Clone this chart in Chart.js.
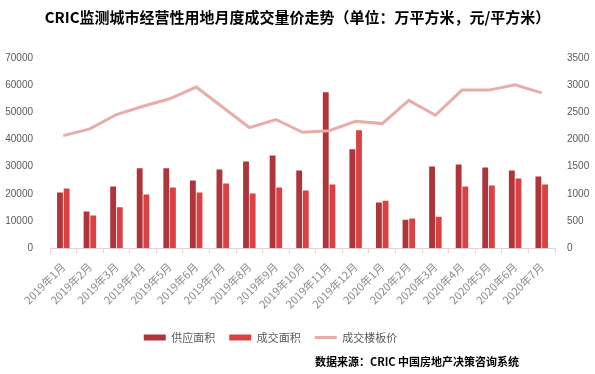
<!DOCTYPE html>
<html>
<head>
<meta charset="utf-8">
<script src="https://cdn.jsdelivr.net/npm/chart.js@4/dist/chart.umd.min.js"></script>
<style>
    body { margin: 0; background: #fff; }
    #wrap { position: relative; width: 595px; height: 374px; }
    #source {
        position: absolute; right: 76px; top: 353px;
        font: bold 11px "Noto Sans CJK SC", sans-serif; color: #000;
    }
</style>
</head>
<body>
<div id="wrap">
    <canvas id="myChart" width="595" height="374"></canvas>
    <div id="source">数据来源：CRIC 中国房地产决策咨询系统</div>
</div>
<script>
    var months = ["2019年1月", "2019年2月", "2019年3月", "2019年4月", "2019年5月", "2019年6月",
        "2019年7月", "2019年8月", "2019年9月", "2019年10月", "2019年11月", "2019年12月",
        "2020年1月", "2020年2月", "2020年3月", "2020年4月", "2020年5月", "2020年6月", "2020年7月"];
    var supplyArea = [20500, 13500, 22700, 29400, 29400, 24900, 29000, 31900, 34100, 28600,
        57400, 36400, 16800, 10500, 30100, 30800, 29700, 28600, 26400];
    var dealArea = [22000, 12000, 15100, 19800, 22300, 20500, 23800, 20100, 22300, 21200,
        23400, 43400, 17500, 10900, 11600, 22700, 23100, 25700, 23400];
    var dealPrice = [2072, 2195, 2460, 2613, 2750, 2965, 2595, 2220, 2368, 2133,
        2163, 2336, 2293, 2719, 2447, 2909, 2909, 3007, 2859];

    var tickFont = { family: "'Liberation Sans', Arial, sans-serif", size: 10 };
    var plain = function (v) { return String(v); };

    // legend in the original sits a bit left of centre
    var legendShift = {
        id: 'legendShift',
        afterLayout: function (chart) {
            chart.legend.left -= 27;
            chart.legend.right -= 27;
        }
    };

    var ctx = document.getElementById('myChart').getContext('2d');
    var chart = new Chart(ctx, {
        type: 'bar',
        data: {
            labels: months,
            datasets: [{
                label: '供应面积',
                data: supplyArea,
                backgroundColor: '#B0353A',
                pointStyle: 'rect',
                yAxisID: 'y',
                order: 2,
                categoryPercentage: 0.5,
                barPercentage: 0.88
            }, {
                label: '成交面积',
                data: dealArea,
                backgroundColor: '#DB4142',
                pointStyle: 'rect',
                yAxisID: 'y',
                order: 2,
                categoryPercentage: 0.5,
                barPercentage: 0.88
            }, {
                type: 'line',
                label: '成交楼板价',
                data: dealPrice,
                borderColor: '#E8ADA8',
                backgroundColor: '#E8ADA8',
                borderWidth: 3,
                pointRadius: 0,
                pointStyle: 'line',
                tension: 0,
                yAxisID: 'y1',
                order: 1
            }]
        },
        options: {
            responsive: false,
            animation: false,
            layout: { padding: { left: 0, right: 0, top: 0, bottom: 21 } },
            plugins: {
                title: {
                    display: true,
                    text: 'CRIC监测城市经营性用地月度成交量价走势（单位：万平方米，元/平方米）',
                    font: { family: "'Noto Sans CJK SC', sans-serif", size: 15, weight: 'bold' },
                    color: '#000',
                    padding: { top: 8, bottom: 32 }
                },
                legend: {
                    position: 'bottom',
                    labels: {
                        usePointStyle: true,
                        pointStyleWidth: 22,
                        boxHeight: 6,
                        padding: 14,
                        color: '#595959',
                        font: { family: "'Noto Sans CJK SC', sans-serif", size: 11 },
                        sort: function (a, b) { return a.datasetIndex - b.datasetIndex; }
                    }
                },
                tooltip: { enabled: false }
            },
            scales: {
                x: {
                    offset: true,
                    grid: { display: true, drawOnChartArea: false, offset: true, tickLength: 5, color: '#E3D3D3' },
                    border: { color: '#E3D3D3' },
                    ticks: {
                        color: '#8c8c8c',
                        padding: 7,
                        maxRotation: 45,
                        minRotation: 45,
                        font: { family: "'Noto Sans CJK SC', sans-serif", size: 11 }
                    }
                },
                y: {
                    position: 'left',
                    min: 0,
                    max: 70000,
                    grid: { display: false, drawTicks: false },
                    border: { display: false },
                    afterFit: function (axis) { axis.width = 50; },
                    ticks: { stepSize: 10000, color: '#595959', font: tickFont, padding: 17, callback: plain }
                },
                y1: {
                    position: 'right',
                    min: 0,
                    max: 3500,
                    grid: { display: false, drawTicks: false },
                    border: { display: false },
                    afterFit: function (axis) { axis.width = 40; },
                    ticks: { stepSize: 500, color: '#595959', font: tickFont, padding: 12, callback: plain }
                }
            }
        },
        plugins: [legendShift]
    });
</script>
</body>
</html>
